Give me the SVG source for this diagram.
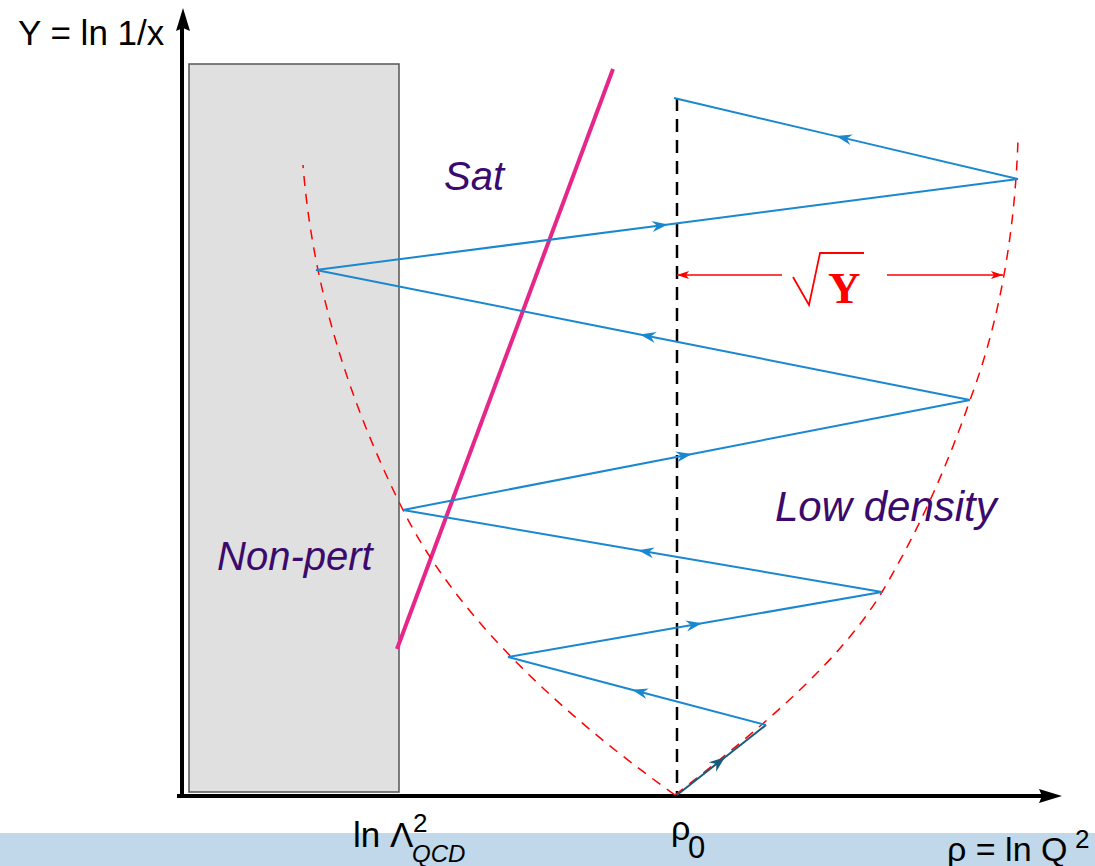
<svg xmlns="http://www.w3.org/2000/svg" width="1095" height="866" viewBox="0 0 1095 866">
<style>
.lbl{font-family:"Liberation Sans",Arial,sans-serif;font-style:italic;font-size:40px;fill:#3b0a6d}
.ax{font-family:"Liberation Sans",Arial,sans-serif;fill:#000}
.blue{fill:none;stroke:#1a88d0;stroke-width:2;marker-mid:url(#ab)}
.red{fill:none;stroke:#ff0000;stroke-width:1.5;stroke-dasharray:10 8}
</style>
<defs>
<marker id="ab" markerUnits="userSpaceOnUse" viewBox="-17 -7 18 14" markerWidth="18" markerHeight="14" refX="0" refY="0" orient="auto"><path d="M0,0 L-16,-5.5 L-11,0 L-16,5.5 z" fill="#1a88d0"/></marker>
<marker id="at" markerUnits="userSpaceOnUse" viewBox="-17 -7 18 14" markerWidth="18" markerHeight="14" refX="0" refY="0" orient="auto"><path d="M0,0 L-16,-6 L-11,0 L-16,6 z" fill="#1b5b7a"/></marker>
<marker id="ar" markerUnits="userSpaceOnUse" viewBox="-13 -5 14 10" markerWidth="14" markerHeight="10" refX="0" refY="0" orient="auto"><path d="M0,0 L-12,-4 L-9,0 L-12,4 z" fill="#ff0000"/></marker>
</defs>
<rect x="0" y="833" width="1095" height="33" fill="#c0d8ea"/>
<g id="nonpert-region">
<rect x="189" y="64" width="210" height="728" fill="#e0e0e0" stroke="#555" stroke-width="1.5"/>
<text class="lbl" x="217" y="570">Non-pert</text>
</g>
<g id="axes">
<line x1="182" y1="798" x2="182" y2="28" stroke="#000" stroke-width="4"/>
<path d="M183,8 L190,31 L183,28 L176,31 z" fill="#000"/>
<line x1="177" y1="796" x2="1042" y2="796" stroke="#000" stroke-width="4"/>
<path d="M1062,796 L1039,803 L1042,796 L1039,789 z" fill="#000"/>
<text class="ax" x="18" y="45" font-size="35">Y = ln 1/x</text>
<text class="ax" x="353" y="847" font-size="35">ln Λ</text>
<text class="ax" x="413" y="832" font-size="26">2</text>
<text class="ax" x="412" y="862" font-size="24" font-style="italic">QCD</text>
<text class="ax" x="671" y="840" font-size="34">ρ</text>
<text class="ax" x="688" y="858" font-size="31">0</text>
<text class="ax" x="947" y="861" font-size="34">ρ = ln Q</text>
<text class="ax" x="1075" y="848" font-size="26">2</text>
</g>
<g id="saturation-line">
<line x1="397" y1="649" x2="613" y2="69" stroke="#e5268a" stroke-width="4"/>
<text class="lbl" x="444" y="190">Sat</text>
</g>
<g id="rho0-line">
<line x1="677" y1="98" x2="677" y2="796" stroke="#000" stroke-width="2.5" stroke-dasharray="13 8"/>
</g>
<g id="boundary">
<path class="red" d="M675,795 C763,727 841,660 882,592 C920,528 948,464 970,400 C1002,315 1015,225 1018,140"/>
<path class="red" d="M675,795 C542,700 450.5,605 403,510 C345.5,395 312,280 303,165"/>
</g>
<g id="connectors">
<path d="M677,795 L725,757.2 L766,725" fill="none" stroke="#1b5b7a" stroke-width="2" marker-mid="url(#at)"/>
<path class="blue" d="M766,725 L632,689.7 L508,657"/>
<path class="blue" d="M508,657 L702,623.3 L882,592"/>
<path class="blue" d="M882,592 L638,550.2 L403,510"/>
<path class="blue" d="M403,510 L692,453.9 L970,400"/>
<path class="blue" d="M970,400 L640,334.4 L316,270"/>
<path class="blue" d="M316,270 L668,224.4 L1018,179"/>
<path class="blue" d="M1018,179 L836,136.1 L674,98"/>
</g>
<g id="sqrtY">
<line x1="782" y1="275" x2="677" y2="275" stroke="#ff0000" stroke-width="1.5" marker-end="url(#ar)"/>
<line x1="887" y1="275" x2="1003" y2="275" stroke="#ff0000" stroke-width="1.5" marker-end="url(#ar)"/>
<polyline points="793,277 809,305 820,253 864,253" fill="none" stroke="#ff0000" stroke-width="1.8"/>
<text x="828" y="303" font-family="Liberation Serif,Times New Roman,serif" font-weight="bold" font-size="45" fill="#ff0000">Y</text>
</g>
<g id="lowdensity">
<text class="lbl" x="775" y="521" style="font-size:42px">Low density</text>
</g>
</svg>
